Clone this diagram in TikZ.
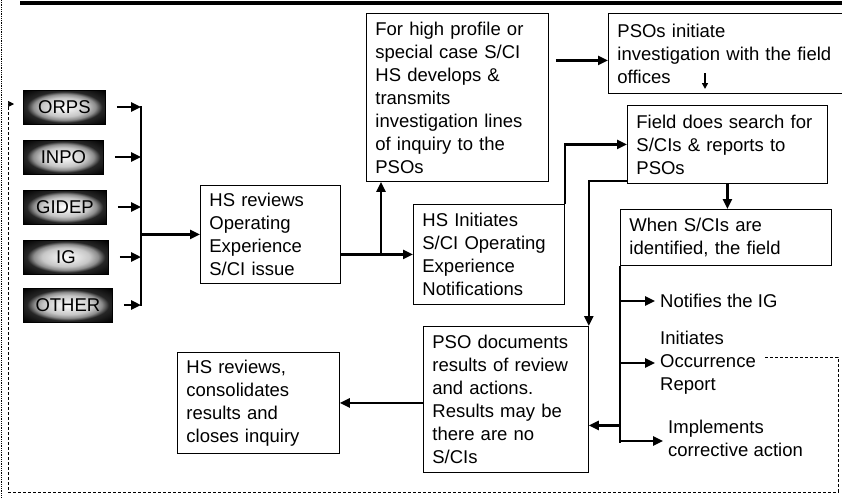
\documentclass[tikz,border=0pt]{standalone}
\usepackage{fontspec}
\setmainfont{Liberation Sans}
\usetikzlibrary{arrows.meta}

\pgfdeclareradialshading{srcshade}{\pgfpoint{0bp}{0bp}}{color(0bp)=(white); color(14bp)=(white!78!black); color(19bp)=(black!45); color(23bp)=(black!85); color(35bp)=(black)}

\tikzset{
  box/.style={draw,line width=0.8pt,anchor=north west,align=left,inner xsep=9pt,inner ysep=0pt,font=\fontsize{18.5}{23}\selectfont},
  srcbox/.style={draw=black,line width=0.8pt,shading=srcshade,anchor=west,minimum height=34pt,font=\fontsize{18.5}{22}\selectfont},
  lbl/.style={align=left,inner sep=5pt,anchor=west,font=\fontsize{18.5}{23}\selectfont},
  conn/.style={line width=2.4pt},
  fb/.style={line width=0.7pt,dash pattern=on 3pt off 2pt},
  >={Triangle[length=10pt,width=9pt]}
}

\begin{document}
\begin{tikzpicture}[x=1pt,y=-1pt]
\useasboundingbox (0,0) rectangle (842,498);
%\draw[step=50,gray,very thin] (0,0) grid (842,498); %background grid

%frame%%%%%%%%%%%%%%%%%%%%%%%%%%%%%%%%%%%%%%%%%%%%%%%%%%%%%%%%%%%%%%%%%
\draw[line width=3.5pt] (20,3) -- (842,3);
\draw[line width=0.8pt,densely dotted] (1.5,0) -- (1.5,498);

%sources%%%%%%%%%%%%%%%%%%%%%%%%%%%%%%%%%%%%%%%%%%%%%%%%%%%%%%%%%%%%%%%
\coordinate (brk) at (141,0);
\foreach \nm/\txt/\y/\w in {orps/ORPS/107/82, inpo/INPO/157/80, gidep/GIDEP/207/83, ig/IG/257/85, other/OTHER/305/89}{
  \node[srcbox,minimum width=\w pt] (\nm) at (23,\y) {\txt};
  \draw[conn,->] ([xshift=11pt]\nm.east) -- (\nm.east -| brk);
}
\draw[conn] ([yshift=1pt]orps.east -| brk) -- ([yshift=-1pt]other.east -| brk);

%boxes%%%%%%%%%%%%%%%%%%%%%%%%%%%%%%%%%%%%%%%%%%%%%%%%%%%%%%%%%%%%%%%%%
\node[box,text width=122pt,minimum height=98pt] (hsrev) at (200,185) {HS reviews\\Operating\\Experience\\S/CI issue};
\node[box,text width=164pt,minimum height=168pt] (high) at (366,13) {For high profile or\\special case S/CI\\HS develops \&\\transmits\\investigation lines\\of inquiry to the\\PSOs};
\node[box,text width=216pt,minimum height=80pt] (pso1) at (608,13) {PSOs initiate\\investigation with the field\\offices};
\node[box,text width=182pt,minimum height=78pt] (field) at (627,105) {Field does search for\\S/CIs \& reports to\\PSOs};
\node[box,text width=133pt,minimum height=100pt] (hsinit) at (413,204) {HS Initiates\\S/CI Operating\\Experience\\Notifications};
\node[box,text width=193pt,minimum height=56pt] (when) at (620,209) {When S/CIs are\\identified, the field};
\node[box,text width=147pt,minimum height=146pt] (psodoc) at (423,326) {PSO documents\\results of review\\and actions.\\Results may be\\there are no\\S/CIs};
\node[box,text width=144pt,minimum height=101pt] (hsrev2) at (177,352) {HS reviews,\\consolidates\\results and\\closes inquiry};

\node[lbl] (notify) at (655,301) {Notifies the IG};
\node[lbl] (occur) at (655,363) {Initiates\\Occurrence\\Report};
\node[lbl] (impl) at (663,438) {Implements\\corrective action};

%connectors%%%%%%%%%%%%%%%%%%%%%%%%%%%%%%%%%%%%%%%%%%%%%%%%%%%%%%%%%%%%
\draw[conn,->] (brk |- hsrev.west) -- (hsrev.west);
\draw[conn,->] (hsrev.east |- hsinit.west) -- (hsinit.west);
\draw[conn,->] ([xshift=15pt]high.south west |- hsinit.west) -- ([xshift=15pt]high.south west);
\draw[conn,->] ([xshift=7pt,yshift=-7pt]high.east |- pso1.west) -- ([yshift=-7pt]pso1.west);
\draw[line width=1.6pt,-{Triangle[length=6pt,width=6pt]}] (705,73) -- (705,89); %arrow in box
\draw[conn,->] (hsinit.north east) |- (field.west);
\draw[conn,->] ([yshift=3pt]field.south west) -| (psodoc.north east);
\draw[conn,->] (field.south) -- (field.south |- when.north);

\draw[conn] (when.south west) -- ++(0,177);
\draw[conn,->] (when.south west |- notify.west) -- (notify.west);
\draw[conn,->] (when.south west |- occur.west) -- (occur.west);
\draw[conn,->] ([yshift=-3pt]when.south west |- impl.west) -- ([yshift=-3pt]impl.west);
\coordinate (pin) at ([yshift=-26pt]psodoc.east);
\draw[conn,->] (when.south west |- pin) -- (pin);
\draw[conn,->] (psodoc.west |- hsrev2.east) -- (hsrev2.east);

%feedback
\draw[fb,-{Triangle[length=6pt,width=6pt]}] ([xshift=4pt,yshift=6pt]occur.east) -| (838,492) -| ([xshift=-15pt,yshift=3pt]orps.west) -- ([xshift=-9pt,yshift=3pt]orps.west);

\end{tikzpicture}
\end{document}
